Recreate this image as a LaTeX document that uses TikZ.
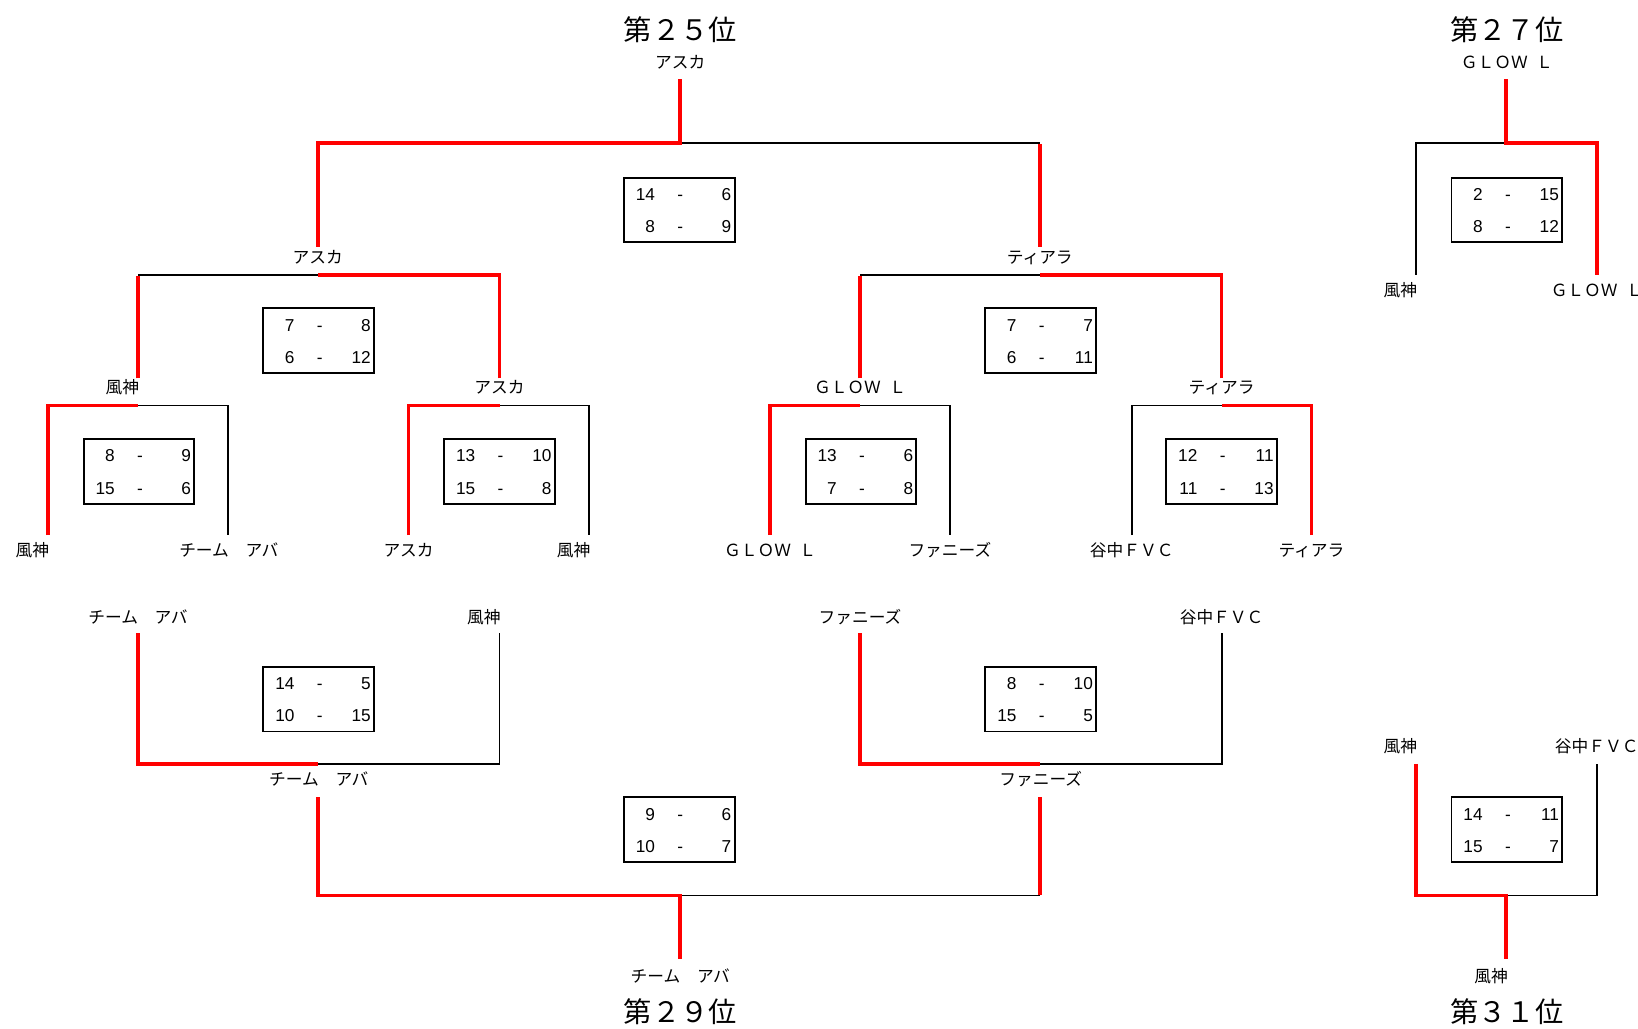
\documentclass[tikz,border=0pt]{standalone}
\usepackage{fontspec}
\newfontfamily\jpf{Noto Sans CJK JP}
\newfontfamily\numf{Liberation Sans}
\usetikzlibrary{calc}
\tikzset{
  blk/.style={line width=1.8pt, draw=black, line join=miter},
  rd/.style={line width=3.6pt, draw=red, line join=miter},
  sbox/.style={draw, line width=1.9pt, minimum width=106pt, minimum height=62pt, inner sep=0pt, outer sep=0pt},
  team/.style={font=\jpf\fontsize{16}{16}\selectfont, inner sep=0pt, text height=14pt, text depth=2pt},
  rank/.style={font=\jpf\fontsize{27}{27}\selectfont, inner sep=0pt, text height=23.8pt, text depth=3.2pt},
  sc/.style={font=\numf\fontsize{16.5}{16.5}\selectfont, inner sep=0pt, text height=11.8pt, text depth=0pt},
}
\newcommand\sbx[7]{%
  \node[sbox, anchor=north west] (#1) at (#2,#3) {};
  \node[sc, anchor=east] (#1-a) at ($(#1.north west)+(30,16)$) {#4};
  \node[sc] (#1-m1) at ($(#1.north west)+(54,16)$) {-};
  \node[sc, anchor=east] (#1-b) at ($(#1.north west)+(103,16)$) {#5};
  \node[sc, anchor=east] (#1-c) at ($(#1.north west)+(30,47)$) {#6};
  \node[sc] (#1-m2) at ($(#1.north west)+(54,47)$) {-};
  \node[sc, anchor=east] (#1-d) at ($(#1.north west)+(103,47)$) {#7};
}
\begin{document}
\begin{tikzpicture}[x=1pt,y=-1pt]
\useasboundingbox[fill=white] (0,0) rectangle (1567.5,984.7);

% ---------- labels ----------
\node[rank] (t25title) at (651,28) {第２５位};
\node[team] (t25) at (651,60) {アスカ};
\node[team] (sl) at (304,246) {アスカ};
\node[team] (sr) at (995,246) {ティアラ};
\node[team] (q1) at (117,371) {風神};
\node[team] (q2) at (478,371) {アスカ};
\node[team] (q3) at (823,371) {ＧＬＯＷ\hspace{0.5em}Ｌ};
\node[team] (q4) at (1169,371) {ティアラ};
\node[team] (e1) at (31,527) {風神};
\node[team] (e2) at (219,527) {チーム　アバ};
\node[team] (e3) at (391,527) {アスカ};
\node[team] (e4) at (549,527) {風神};
\node[team] (e5) at (737,527) {ＧＬＯＷ\hspace{0.5em}Ｌ};
\node[team] (e6) at (909,527) {ファニーズ};
\node[team] (e7) at (1083,527) {谷中ＦＶＣ};
\node[team] (e8) at (1255,527) {ティアラ};
\node[team] (b1) at (132,591) {チーム　アバ};
\node[team] (b2) at (463,591) {風神};
\node[team] (b3) at (823,591) {ファニーズ};
\node[team] (b4) at (1169,591) {谷中ＦＶＣ};
\node[team] (bl) at (305,746) {チーム　アバ};
\node[team] (br) at (996,746) {ファニーズ};
\node[team] (t29) at (651,934) {チーム　アバ};
\node[rank] (t29title) at (651,968) {第２９位};
\node[rank] (t27title) at (1442,28) {第２７位};
\node[team] (t27) at (1442,60) {ＧＬＯＷ\hspace{0.5em}Ｌ};
\node[team] (p1) at (1340,278) {風神};
\node[team] (p2) at (1528,278) {ＧＬＯＷ\hspace{0.5em}Ｌ};
\node[team] (p3) at (1340,714) {風神};
\node[team] (p4) at (1528,714) {谷中ＦＶＣ};
\node[team] (t31) at (1427,934) {風神};
\node[rank] (t31title) at (1442,968) {第３１位};

% ---------- score boxes ----------
\sbx{sf25}{597}{170}{14}{6}{8}{9}
\sbx{ssl}{252}{295}{7}{8}{6}{12}
\sbx{ssr}{943}{295}{7}{7}{6}{11}
\sbx{sq1}{80}{420}{8}{9}{15}{6}
\sbx{sq2}{425}{420}{13}{10}{15}{8}
\sbx{sq3}{771}{420}{13}{6}{7}{8}
\sbx{sq4}{1116}{420}{12}{11}{11}{13}
\sbx{sbl}{252}{638}{14}{5}{10}{15}
\sbx{sbr}{943}{638}{8}{10}{15}{5}
\sbx{sf29}{597}{763}{9}{6}{10}{7}
\sbx{sp27}{1389}{170}{2}{15}{8}{12}
\sbx{sp31}{1389}{763}{14}{11}{15}{7}

% ---------- bracket coordinates ----------
% 25th
\coordinate (f25) at (651,137); \coordinate (f25l) at (304,137); \coordinate (f25r) at (995,137);
\coordinate (f25lb) at (304,236); \coordinate (f25rb) at (995,236); \coordinate (f25t) at (651,76);
% semis
\coordinate (msl) at (304,263); \coordinate (msll) at (132,263); \coordinate (mslr) at (478,263);
\coordinate (msllb) at (132,362); \coordinate (mslrb) at (478,362);
\coordinate (msr) at (995,263); \coordinate (msrl) at (823,263); \coordinate (msrr) at (1169,263);
\coordinate (msrlb) at (823,362); \coordinate (msrrb) at (1169,362);
% quarters
\coordinate (mq1) at (132,388); \coordinate (mq1l) at (46,388); \coordinate (mq1r) at (218,388);
\coordinate (mq1lb) at (46,512); \coordinate (mq1rb) at (218,512);
\coordinate (mq2) at (478,388); \coordinate (mq2l) at (391,388); \coordinate (mq2r) at (564,388);
\coordinate (mq2lb) at (391,512); \coordinate (mq2rb) at (564,512);
\coordinate (mq3) at (823,388); \coordinate (mq3l) at (737,388); \coordinate (mq3r) at (909,388);
\coordinate (mq3lb) at (737,512); \coordinate (mq3rb) at (909,512);
\coordinate (mq4) at (1169,388); \coordinate (mq4l) at (1083,388); \coordinate (mq4r) at (1255,388);
\coordinate (mq4lb) at (1083,512); \coordinate (mq4rb) at (1255,512);
% lower bracket
\coordinate (mbl) at (304,731); \coordinate (mbll) at (132,731); \coordinate (mblr) at (478,731);
\coordinate (mbllt) at (132,606); \coordinate (mblrt) at (478,606);
\coordinate (mbr) at (995,731); \coordinate (mbrl) at (823,731); \coordinate (mbrr) at (1169,731);
\coordinate (mbrlt) at (823,606); \coordinate (mbrrt) at (1169,606);
\coordinate (f29) at (651,857); \coordinate (f29l) at (304,857); \coordinate (f29r) at (995,857);
\coordinate (f29lt) at (304,763); \coordinate (f29rt) at (995,763); \coordinate (f29b) at (651,918);
% 27th
\coordinate (p27) at (1441,137); \coordinate (p27l) at (1355,137); \coordinate (p27r) at (1528,137);
\coordinate (p27lb) at (1355,263); \coordinate (p27rb) at (1528,263); \coordinate (p27t) at (1441,76);
% 31st
\coordinate (p31) at (1441,857); \coordinate (p31l) at (1355,857); \coordinate (p31r) at (1528,857);
\coordinate (p31lt) at (1355,731); \coordinate (p31rt) at (1528,731); \coordinate (p31b) at (1441,918);

% ---------- black lines ----------
\draw[blk] (f25) -- (f25r);
\draw[blk] (msl) -- (msll);
\draw[blk] (msr) -- (msrl);
\draw[blk] (mq1) -- (mq1r) -- (mq1rb);
\draw[blk] (mq2) -- (mq2r) -- (mq2rb);
\draw[blk] (mq3) -- (mq3r) -- (mq3rb);
\draw[blk] (mq4lb) -- (mq4l) -- (mq4);
\draw[blk] (mbl) -- (mblr) -- (mblrt);
\draw[blk] (mbr) -- (mbrr) -- (mbrrt);
\draw[blk] (f29) -- (f29r);
\draw[blk] (p27lb) -- (p27l) -- (p27);
\draw[blk] (p31) -- (p31r) -- (p31rt);

% ---------- red lines ----------
\draw[rd] (f25lb) -- (f25l) -- (f25) -- (f25t);
\draw[rd] (f25rb) -- ([yshift=-0.9pt]f25r);
\draw[rd] (msllb) -- ([yshift=-0.9pt]msll);
\draw[rd] (mslrb) -- (mslr) -- (msl);
\draw[rd] (msrlb) -- ([yshift=-0.9pt]msrl);
\draw[rd] (msrrb) -- (msrr) -- (msr);
\draw[rd] (mq1lb) -- (mq1l) -- (mq1);
\draw[rd] (mq2lb) -- (mq2l) -- (mq2);
\draw[rd] (mq3lb) -- (mq3l) -- (mq3);
\draw[rd] (mq4rb) -- (mq4r) -- (mq4);
\draw[rd] (mbllt) -- (mbll) -- (mbl);
\draw[rd] (mbrlt) -- (mbrl) -- (mbr);
\draw[rd] (f29lt) -- (f29l) -- (f29) -- (f29b);
\draw[rd] (f29rt) -- ([yshift=0.9pt]f29r);
\draw[rd] (p27t) -- (p27) -- (p27r) -- (p27rb);
\draw[rd] (p31lt) -- (p31l) -- (p31) -- (p31b);
\end{tikzpicture}
\end{document}
